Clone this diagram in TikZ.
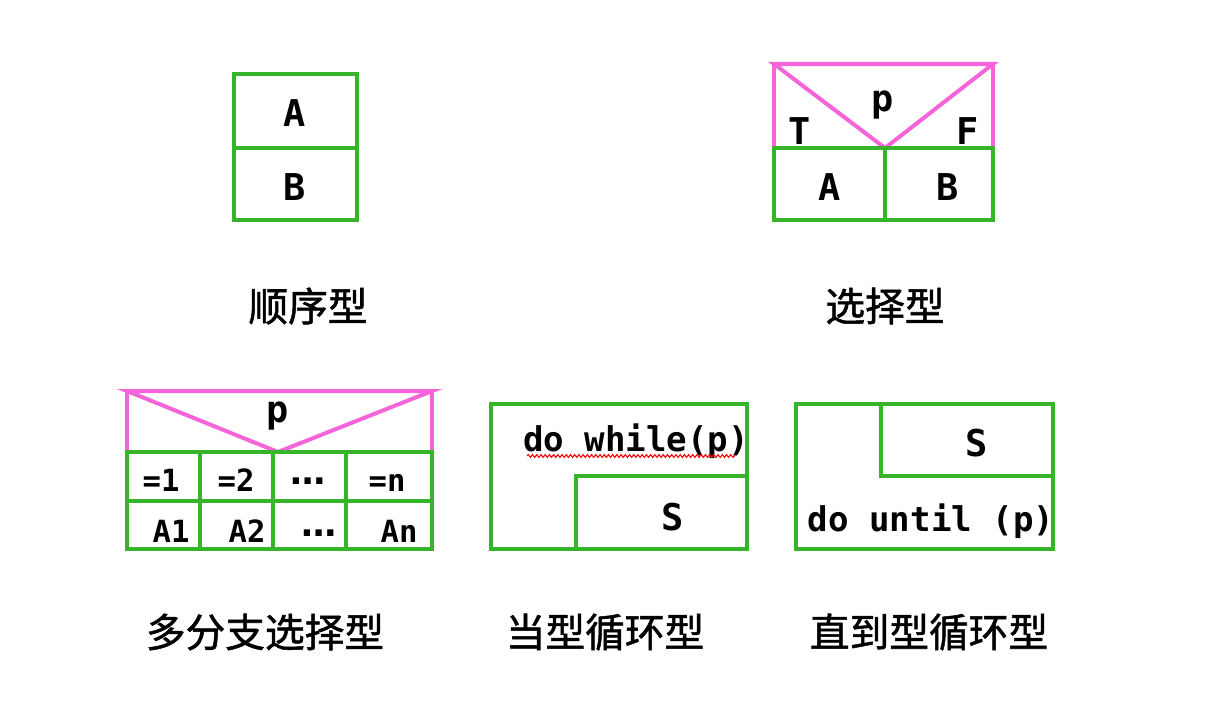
\documentclass[tikz,border=0pt]{standalone}
\usepackage{fontspec}
\usetikzlibrary{decorations.pathmorphing}
\newfontfamily\cjk{Noto Sans CJK SC}[FakeBold=1.3]
\newfontfamily\latn{DejaVu Sans Mono}
\newfontfamily\dotfont{DejaVu Sans}
\definecolor{nsgreen}{HTML}{36B52A}
\definecolor{nspink}{HTML}{F564D9}
\begin{document}
\begin{tikzpicture}[scale=0.1]
	\tikzstyle{every node}+=[inner sep=0pt]
	\tikzstyle{ns}=[nsgreen, line width=1.14pt]
	\tikzstyle{cond}=[nspink, line width=1.14pt]
	\tikzstyle{letter}=[font=\latn\bfseries\fontsize{10.5}{12}\selectfont]
	\tikzstyle{small}=[font=\latn\bfseries\fontsize{8.7}{10}\selectfont]
	\tikzstyle{loop}=[font=\latn\bfseries\fontsize{9.7}{11}\selectfont]
	\tikzstyle{dots}=[font=\dotfont\bfseries\fontsize{10}{11}\selectfont]
	\tikzstyle{typename}=[font=\cjk\fontsize{11.3}{13}\selectfont]
	\useasboundingbox (0,0) rectangle (121,-71.8);
	% sequence
	\draw [ns] (23.4,-7.4) rectangle (35.7,-22.0);
	\draw [ns] (23.4,-14.8) -- (35.7,-14.8);
	\node [letter] (seqA) at (29.5,-11.3) {A};
	\node [letter] (seqB) at (29.5,-18.7) {B};
	\node [typename] (seqname) at (30.8,-30.6) {顺序型};
	% selection
	\draw [cond] (77.4,-14.8) -- (77.4,-6.4);
	\draw [cond] (99.3,-14.8) -- (99.3,-6.4);
	\draw [cond] (77.4,-6.4) -- (99.3,-6.4) -- (88.5,-14.8) -- cycle;
	\draw [ns] (77.4,-14.8) rectangle (99.3,-22.0);
	\draw [ns] (88.5,-14.8) -- (88.5,-22.0);
	\node [letter] (selp) at (88.3,-10.5) {p};
	\node [letter] (selT) at (80.0,-13.1) {T};
	\node [letter] (selF) at (96.8,-13.1) {F};
	\node [letter] (selA) at (83.0,-18.7) {A};
	\node [letter] (selB) at (94.8,-18.7) {B};
	\node [typename] (selname) at (88.5,-30.6) {选择型};
	% multiple branch
	\draw [cond] (12.7,-45.2) -- (12.7,-39.1);
	\draw [cond] (43.2,-45.2) -- (43.2,-39.1);
	\draw [cond] (12.7,-39.1) -- (43.2,-39.1) -- (27.8,-45.2) -- cycle;
	\draw [ns] (12.7,-45.2) rectangle (43.2,-54.9);
	\draw [ns] (12.7,-50.1) -- (43.2,-50.1);
	\draw [ns] (20.0,-45.2) -- (20.0,-54.9);
	\draw [ns] (27.3,-45.2) -- (27.3,-54.9);
	\draw [ns] (34.6,-45.2) -- (34.6,-54.9);
	\node [letter] (mulp) at (27.8,-41.6) {p};
	\node [small, anchor=base] (case1) at (16.1,-49.1) {=1};
	\node [small, anchor=base] (case2) at (23.6,-49.1) {=2};
	\node [dots] (casedots) at (30.8,-48.1) {…};
	\node [small, anchor=base] (casen) at (38.7,-49.1) {=n};
	\node [small, anchor=base] (actA1) at (17.1,-54.2) {A1};
	\node [small, anchor=base] (actA2) at (24.7,-54.2) {A2};
	\node [dots] (actdots) at (31.9,-53.3) {…};
	\node [small, anchor=base] (actAn) at (39.9,-54.2) {An};
	\node [typename] (mulname) at (26.5,-63.2) {多分支选择型};
	% while loop
	\draw [ns] (49.1,-40.4) rectangle (74.7,-54.9);
	\draw [ns] (57.6,-54.9) -- (57.6,-47.6) -- (74.7,-47.6);
	\node [loop] (whiletext) at (63.6,-44.1) {do while(p)};
	\draw [red, line width=0.3pt, decorate, decoration={snake, amplitude=0.4pt, segment length=1.2pt}] (52.7,-45.6) -- (73.5,-45.6);
	\node [letter] (whileS) at (67.3,-51.7) {S};
	\node [typename] (whilename) at (60.5,-63.2) {当型循环型};
	% until loop
	\draw [ns] (79.6,-40.4) rectangle (105.3,-54.9);
	\draw [ns] (88.1,-40.4) -- (88.1,-47.6) -- (105.3,-47.6);
	\node [letter] (untilS) at (97.7,-44.3) {S};
	\node [loop] (untiltext) at (93.1,-52.1) {do until (p)};
	\node [typename] (untilname) at (92.9,-63.2) {直到型循环型};
\end{tikzpicture}
\end{document}
